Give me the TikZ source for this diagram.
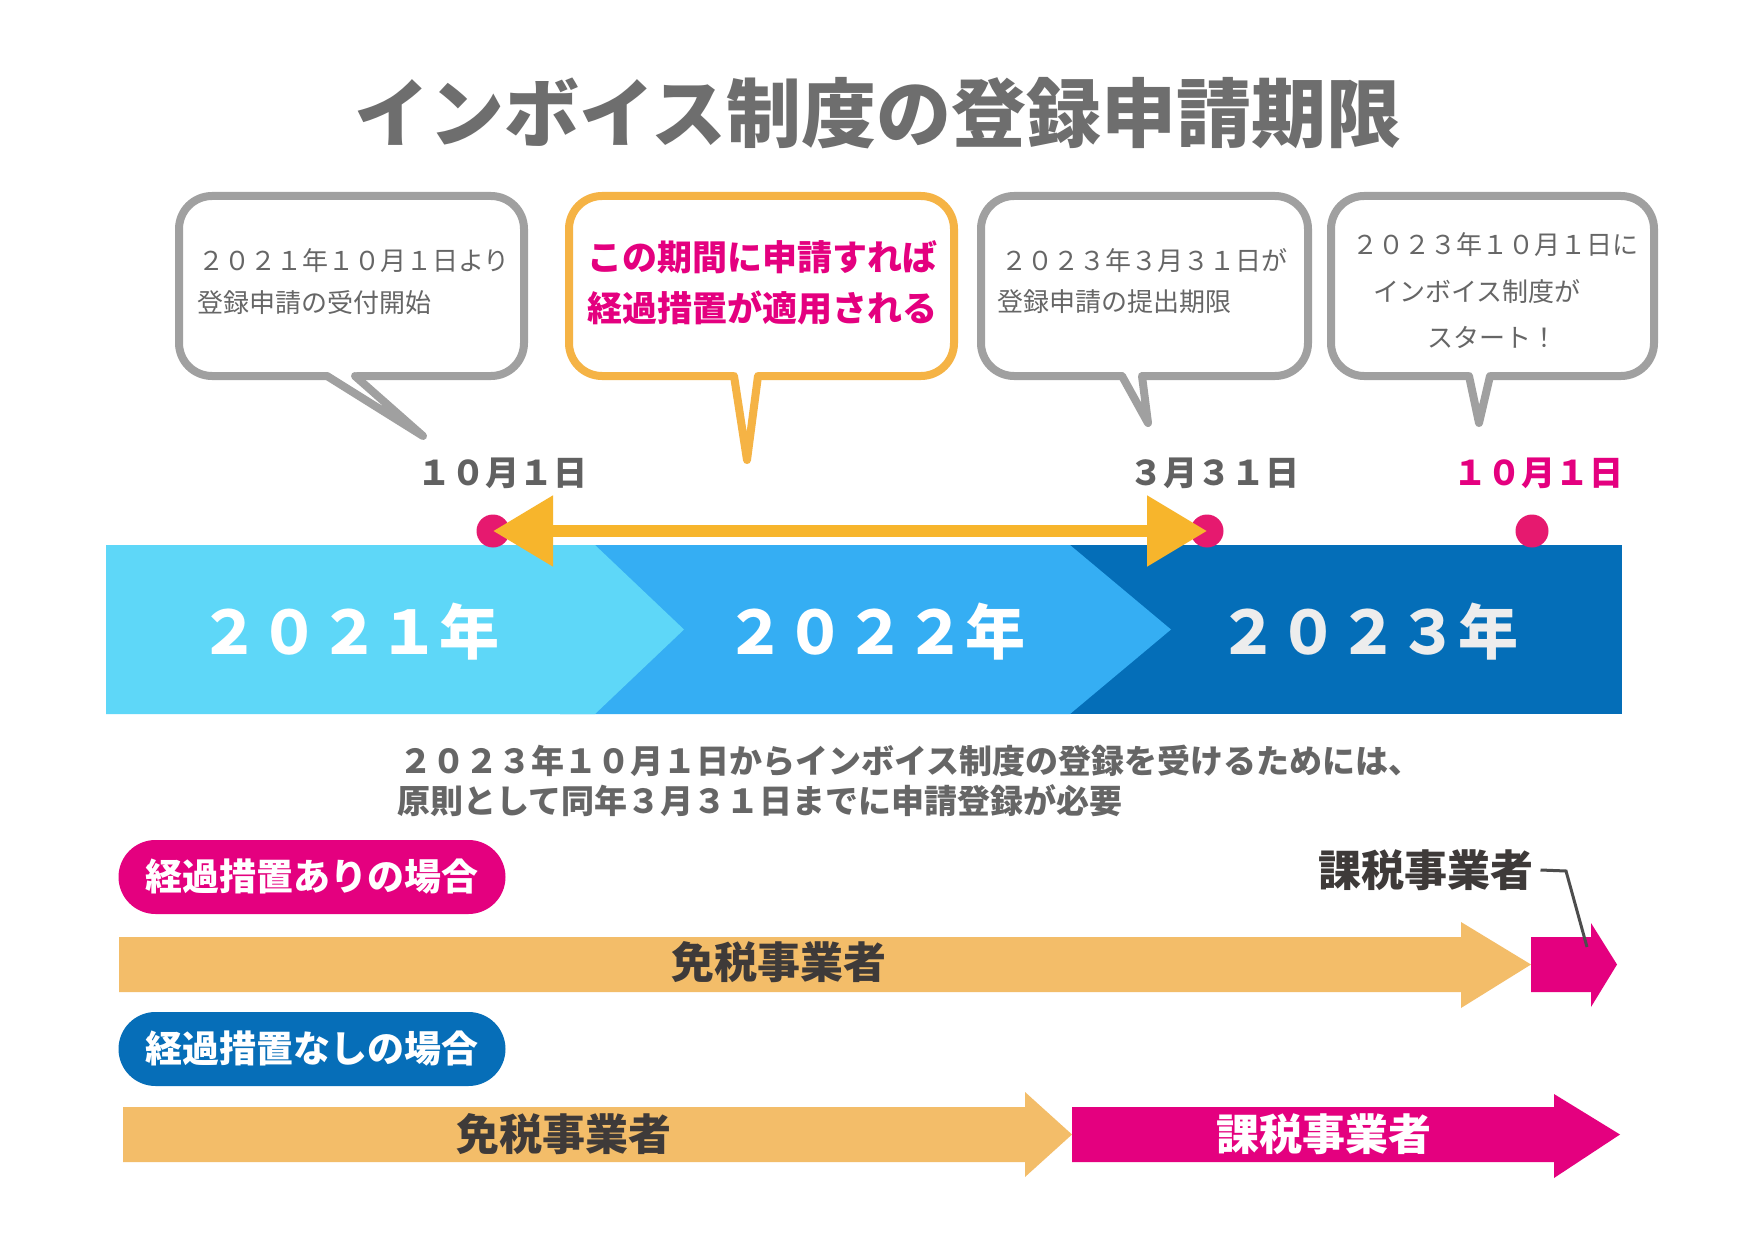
\documentclass[tikz,border=0pt]{standalone}
\usepackage{fontspec}
\setmainfont{Noto Sans CJK JP}
\usetikzlibrary{arrows.meta}
\definecolor{titlegray}{HTML}{6E6E6E}
\definecolor{txtgray}{HTML}{666666}
\definecolor{bordergray}{HTML}{A0A0A0}
\definecolor{borderorange}{HTML}{F5B345}
\definecolor{mag}{HTML}{E4007F}
\definecolor{dotpink}{HTML}{E6196F}
\definecolor{arroworange}{HTML}{F7B52C}
\definecolor{segA}{HTML}{5ED7F8}
\definecolor{segB}{HTML}{35AEF3}
\definecolor{segC}{HTML}{046EB8}
\definecolor{barorange}{HTML}{F3BD69}
\definecolor{darktxt}{HTML}{3E3A39}
\definecolor{pillblue}{HTML}{066EB8}
\definecolor{leadgray}{HTML}{4D4D4D}
\newcommand{\fsz}[1]{\fontsize{#1}{#1}\selectfont}
\newcommand{\speechbox}[9]{%
  \draw[line width=8pt, draw=#9, fill=white, rounded corners=33pt] (#1,#2) rectangle (#3,#4);
  \fill[white] (#5,#4-4.5) -- (#6,#4-4.5) -- (#7,#8) -- cycle;
  \draw[line width=8pt, draw=#9, line join=round, line cap=round] (#5,#4) -- (#7,#8) -- (#6,#4);
}
\begin{document}
\begin{tikzpicture}[x=1pt,y=-1pt,
  every node/.style={inner sep=0pt, outer sep=0pt},
  bubtxt/.style={font=\fsz{26}, text=txtgray},
  hottxt/.style={font=\bfseries\fsz{35}, text=mag},
  datetxt/.style={font=\bfseries\fsz{34}, text=txtgray!95!black},
  yeartxt/.style={font=\bfseries\fsz{60}, text=white},
  midtxt/.style={font=\bfseries\fsz{33}, text=txtgray},
  pill/.style={rounded corners=37pt, minimum width=387pt, minimum height=74pt, font=\bfseries\fsz{37}, text=white},
  bartxt/.style={font=\bfseries\fsz{43}, text=darktxt},
  dot/.style={circle, fill=dotpink, minimum size=33pt},
  dbl/.style={line width=12pt, draw=arroworange, {Triangle[length=60pt,width=68pt]}-{Triangle[length=60pt,width=68pt]}}
]
\useasboundingbox (0,0) rectangle (1754,1241);
\fill[white] (0,0) rectangle (1754,1241);

% title
\node[font=\bfseries\fsz{75}, text=titlegray] (title) at (878,113) {インボイス制度の登録申請期限};

% speech bubbles
\speechbox{179}{196}{524}{376}{327}{355}{423}{436}{bordergray}
\speechbox{569}{196}{954}{376}{734}{758}{747}{460}{borderorange}
\speechbox{981}{196}{1308}{376}{1122}{1142}{1148}{423}{bordergray}
\speechbox{1331}{196}{1654}{376}{1469}{1490}{1479}{423}{bordergray}

\node[bubtxt, anchor=west] (b1l1) at (198,261) {２０２１年１０月１日より};
\node[bubtxt, anchor=west] (b1l2) at (197,303) {登録申請の受付開始};
\node[hottxt] (b2l1) at (762,257) {この期間に申請すれば};
\node[hottxt] (b2l2) at (762,308) {経過措置が適用される};
\node[bubtxt, anchor=west] (b3l1) at (1001,261) {２０２３年３月３１日が};
\node[bubtxt, anchor=west] (b3l2) at (997,302) {登録申請の提出期限};
\node[bubtxt] (b4l1) at (1495,245) {２０２３年１０月１日に};
\node[bubtxt, anchor=west] (b4l2) at (1373,292) {インボイス制度が};
\node[bubtxt, anchor=west] (b4l3) at (1427,337) {スタート！};

% date labels
\node[datetxt] (d1) at (502,473) {１０月１日};
\node[datetxt] (d2) at (1214,473) {３月３１日};
\node[datetxt, text=mag] (d3) at (1538,473) {１０月１日};

% timeline bar
\fill[segC] (1000,545) rectangle (1622,714);
\fill[segB] (560,545) -- (1070,545) -- (1171,629.5) -- (1070,714) -- (560,714) -- cycle;
\fill[segA] (106,545) -- (595,545) -- (684,629.5) -- (595,714) -- (106,714) -- cycle;
\node[yeartxt] (y1) at (349,632) {２０２１年};
\node[yeartxt] (y2) at (875,632) {２０２２年};
\node[yeartxt, text=white!93!black] (y3) at (1368,632) {２０２３年};

% dots and double arrow
\node[dot] (p1) at (493,531) {};
\node[dot] (p2) at (1207,531) {};
\node[dot] (p3) at (1532,531) {};
\draw[dbl] (p1.center) -- (p2.center);

% middle text
\node[midtxt, anchor=west] (m1) at (399,761) {２０２３年１０月１日からインボイス制度の登録を受けるためには、};
\node[midtxt, anchor=west] (m2) at (397,801) {原則として同年３月３１日までに申請登録が必要};

% case 1
\node[pill, fill=mag] (pill1) at (312,877) {経過措置ありの場合};
\fill[barorange] (119,937) -- (1461,937) -- (1461,922) -- (1531,964.5) -- (1461,1008) -- (1461,992) -- (119,992) -- cycle;
\fill[mag] (1531,937) -- (1591,937) -- (1591,923) -- (1617,964.5) -- (1591,1007) -- (1591,992) -- (1531,992) -- cycle;
\node[bartxt] (r1t) at (779,962) {免税事業者};
\node[bartxt] (kz1) at (1426,870) {課税事業者};
\coordinate (lead1) at (1566,871);
\coordinate (lead2) at (1587,947);
\draw[leadgray, line width=3pt] ([xshift=7pt]kz1.east) -- (lead1) -- (lead2);

% case 2
\node[pill, fill=pillblue] (pill2) at (312,1049) {経過措置なしの場合};
\fill[barorange] (123,1107) -- (1025,1107) -- (1025,1092) -- (1072,1134.5) -- (1025,1177) -- (1025,1162) -- (123,1162) -- cycle;
\fill[mag] (1072,1107) -- (1554,1107) -- (1554,1094) -- (1620,1134.5) -- (1554,1178) -- (1554,1162) -- (1072,1162) -- cycle;
\node[bartxt] (r2t) at (564,1134) {免税事業者};
\node[bartxt, text=white] (r2k) at (1324,1134) {課税事業者};
\end{tikzpicture}
\end{document}
